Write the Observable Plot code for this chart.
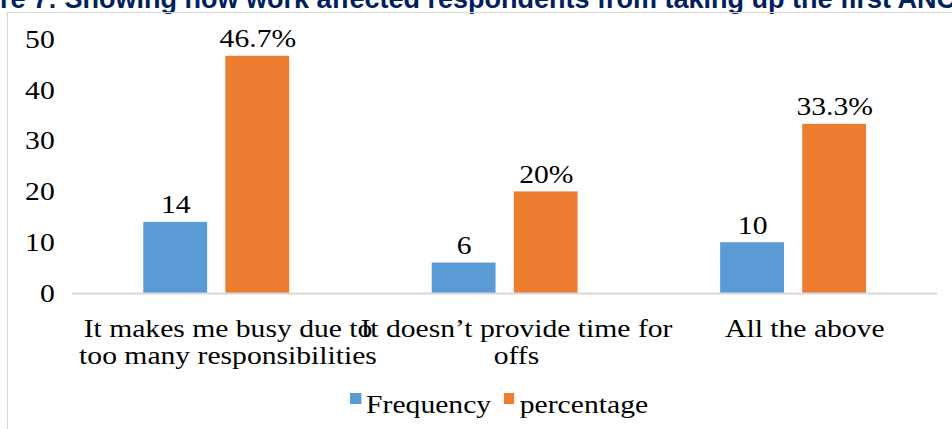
<!DOCTYPE html>
<html>
<head>
<meta charset="utf-8">
<script src="https://cdn.jsdelivr.net/npm/d3@7"></script>
<script src="https://cdn.jsdelivr.net/npm/@observablehq/plot@0.6"></script>
<style>
  html, body { margin: 0; padding: 0; background: #fff; overflow: hidden; }
  #page { position: relative; width: 952px; height: 429px; overflow: hidden; background: #fff; }
  #caption {
    position: absolute; left: -57px; top: -14px; white-space: nowrap;
    font: bold 27px "Liberation Sans", Arial, sans-serif; line-height: 1; color: #002060;
  }
  /* The figure is set slightly wide, as in the printed report */
  #stage {
    position: absolute; left: 0; top: 0; width: 835px; height: 429px;
    transform: scaleX(1.14); transform-origin: 0 0;
  }
  #chart { position: absolute; left: 0; top: 0; }
  #frame {
    position: absolute; left: 6px; top: 12px; width: 900px; height: 430px;
    border-left: 1.4px solid #d9d9d9; border-top: 1.5px solid #d9d9d9; box-sizing: border-box;
  }
  #legend {
    position: absolute; left: 307px; top: 392px; white-space: nowrap;
    font-family: "Liberation Serif", "Times New Roman", serif; font-size: 26px; line-height: 1; color: #000;
  }
  #legend .item { display: inline-block; margin-right: 11px; }
  #legend .swatch { display: inline-block; width: 9.6px; height: 11px; vertical-align: 9px; margin-right: 4.5px; }
</style>
</head>
<body>
<div id="page">
  <div id="caption">Figure 7: Showing how work affected respondents from taking up the first ANC</div>
  <div id="stage">
    <div id="chart"></div>
    <div id="frame"></div>
    <div id="legend"></div>
  </div>
</div>
<script>
// Categories (tick labels, with line breaks), series and their values
const categories = [
  "It makes me busy due to\ntoo many responsibilities",
  "It doesn\u2019t provide time for\noffs",
  "All the above"
];
const series = ["Frequency", "percentage"];
const frequency = [14, 6, 10];
const percentage = [46.7, 20, 33.3];
const yTicks = [0, 10, 20, 30, 40, 50];
const colors = ["#5B9BD5", "#ED7D31"];

// Tidy rows: one per bar
const rows = categories.flatMap((category, i) => [
  {category, series: series[0], value: frequency[i], label: `${frequency[i]}`},
  {category, series: series[1], value: percentage[i], label: `${percentage[i]}%`}
]);

const chart = Plot.plot({
  width: 835,
  height: 380,
  marginTop: 39,
  marginBottom: 87,
  marginLeft: 62.3,
  marginRight: 12.2,
  style: {
    fontFamily: "'Liberation Serif', 'Times New Roman', serif",
    fontSize: "26px",
    color: "#000",
    background: "none",
    overflow: "visible"
  },
  fx: {domain: categories, padding: 0},
  x: {domain: series, paddingInner: 0.217, paddingOuter: 0.85, axis: null},
  y: {domain: [0, 50]},
  color: {domain: series, range: colors},
  marks: [
    Plot.barY(rows, {fx: "category", x: "series", y: "value", fill: "series"}),
    Plot.ruleY([0], {stroke: "#d9d9d9", strokeWidth: 2}),
    Plot.text(rows, {fx: "category", x: "series", y: "value", text: "label", lineAnchor: "bottom", dy: -9, fill: "#000"}),
    Plot.axisY({ticks: yTicks, tickSize: 0, tickPadding: 15.5, label: null}),
    Plot.axisFx({anchor: "bottom", tickSize: 0, tickPadding: 23.5, lineHeight: 1.06, dx: 10, label: null})
  ]
});
document.getElementById("chart").appendChild(chart);

// Legend built from the same series and colours
const legend = document.getElementById("legend");
series.forEach((name, i) => {
  const item = document.createElement("span");
  item.className = "item";
  const sw = document.createElement("span");
  sw.className = "swatch";
  sw.style.background = colors[i];
  item.appendChild(sw);
  item.appendChild(document.createTextNode(name));
  legend.appendChild(item);
});
</script>
</body>
</html>
